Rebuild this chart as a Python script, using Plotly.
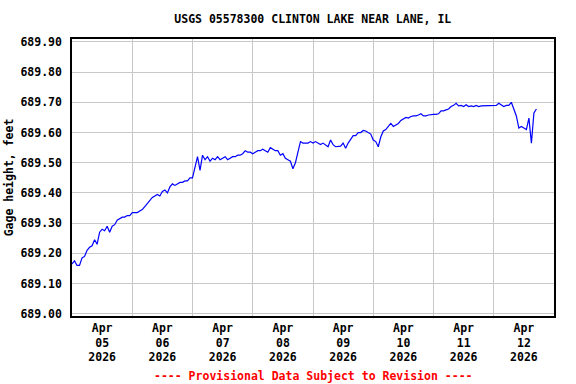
import pandas as pd
import plotly.graph_objects as go

# Hourly gage height readings, starting 2026-04-05 00:00
start_time = "2026-04-05 00:00"
gage_height = [
    # Apr 05
    689.165, 689.175, 689.16, 689.16, 689.185, 689.19, 689.21, 689.22,
    689.225, 689.245, 689.23, 689.27, 689.28, 689.275, 689.29, 689.27,
    689.29, 689.295, 689.31, 689.315, 689.32, 689.32, 689.325, 689.325,
    # Apr 06
    689.335, 689.335, 689.335, 689.34, 689.345, 689.355, 689.365, 689.375,
    689.385, 689.39, 689.395, 689.39, 689.405, 689.41, 689.40, 689.42,
    689.43, 689.425, 689.43, 689.435, 689.435, 689.44, 689.44, 689.45,
    # Apr 07
    689.45, 689.49, 689.52, 689.475, 689.525, 689.51, 689.52, 689.505,
    689.515, 689.51, 689.52, 689.51, 689.515, 689.52, 689.51, 689.515,
    689.52, 689.52, 689.525, 689.525, 689.53, 689.54, 689.535, 689.535,
    # Apr 08
    689.53, 689.535, 689.54, 689.54, 689.545, 689.54, 689.535, 689.55,
    689.545, 689.54, 689.54, 689.525, 689.53, 689.515, 689.51, 689.505,
    689.48, 689.50, 689.535, 689.57, 689.565, 689.565, 689.565, 689.57,
    # Apr 09
    689.565, 689.57, 689.565, 689.56, 689.565, 689.56, 689.553, 689.575,
    689.56, 689.553, 689.555, 689.555, 689.565, 689.548, 689.565, 689.58,
    689.59, 689.59, 689.60, 689.60, 689.607, 689.605, 689.60, 689.595,
    # Apr 10
    689.575, 689.57, 689.553, 689.585, 689.605, 689.61, 689.62, 689.63,
    689.62, 689.625, 689.63, 689.64, 689.645, 689.65, 689.648, 689.653,
    689.655, 689.655, 689.658, 689.662, 689.655, 689.655, 689.658, 689.66,
    # Apr 11
    689.66, 689.66, 689.662, 689.672, 689.672, 689.675, 689.678, 689.686,
    689.69, 689.697, 689.688, 689.69, 689.686, 689.692, 689.686, 689.688,
    689.686, 689.69, 689.686, 689.688, 689.688, 689.688, 689.688, 689.688,
    # Apr 12
    689.688, 689.69, 689.697, 689.69, 689.686, 689.69, 689.69, 689.70,
    689.675, 689.655, 689.615, 689.62, 689.615, 689.61, 689.648, 689.565,
    689.665, 689.678,
]
times = pd.date_range(start_time, periods=len(gage_height), freq="h")

day_ticks = ["2026-04-05 12:00", "2026-04-06 12:00", "2026-04-07 12:00",
             "2026-04-08 12:00", "2026-04-09 12:00", "2026-04-10 12:00",
             "2026-04-11 12:00", "2026-04-12 12:00"]
day_labels = ["Apr<br>05<br>2026", "Apr<br>06<br>2026", "Apr<br>07<br>2026",
              "Apr<br>08<br>2026", "Apr<br>09<br>2026", "Apr<br>10<br>2026",
              "Apr<br>11<br>2026", "Apr<br>12<br>2026"]
y_ticks = [689.0, 689.1, 689.2, 689.3, 689.4, 689.5, 689.6, 689.7, 689.8, 689.9]

FONT = "DejaVu Sans Mono"

fig = go.Figure()
fig.add_trace(go.Scatter(x=times, y=gage_height, mode="lines",
                         line=dict(color="#0000FF", width=1.2), showlegend=False))

fig.update_layout(
    width=576, height=384,
    margin=dict(l=72, r=22, t=39, b=68, autoexpand=False),
    paper_bgcolor="white", plot_bgcolor="white",
    font=dict(family=FONT, size=11.5, color="black", weight="bold"),
    title=dict(text="USGS 05578300 CLINTON LAKE NEAR LANE, IL",
               x=0.543, xanchor="center", yref="container",
               y=1 - 19 / 384, yanchor="middle",
               font=dict(family=FONT, size=11.5, color="black", weight="bold")),
    annotations=[dict(text="---- Provisional Data Subject to Revision ----",
                      xref="paper", yref="paper", x=0.5, y=-0.215,
                      xanchor="center", yanchor="middle", showarrow=False,
                      font=dict(family=FONT, size=11.5, color="#FF0000", weight="bold"))],
)

fig.update_xaxes(
    range=["2026-04-05 00:00", "2026-04-13 00:00"],
    tickmode="array", tickvals=day_ticks, ticktext=day_labels,
    showgrid=False, ticks="", tickangle=0, automargin=False,
    tickfont=dict(family=FONT, size=11.5, color="black", weight="bold"),
    minor=dict(tickmode="array",
               tickvals=["2026-04-06", "2026-04-07", "2026-04-08", "2026-04-09",
                         "2026-04-10", "2026-04-11", "2026-04-12"],
               showgrid=True, gridcolor="#C8C8C8", gridwidth=1, ticks=""),
    showline=True, linecolor="black", linewidth=1.5, mirror=True,
    zeroline=False,
)
fig.update_yaxes(
    range=[688.9927, 689.9096],
    tickmode="array", tickvals=y_ticks, tickformat=".2f",
    showgrid=True, gridcolor="#C8C8C8", gridwidth=1,
    ticks="", ticklabelstandoff=6, automargin=False,
    tickfont=dict(family=FONT, size=11.5, color="black", weight="bold"),
    title=dict(text="Gage height, feet", standoff=4,
               font=dict(family=FONT, size=11.5, color="black", weight="bold")),
    showline=True, linecolor="black", linewidth=1.5, mirror=True,
    zeroline=False,
)

fig.write_html("out.html",
               config={"displayModeBar": False},
               post_script="document.body.style.margin='0px';"
                           "document.body.style.overflow='hidden';")
